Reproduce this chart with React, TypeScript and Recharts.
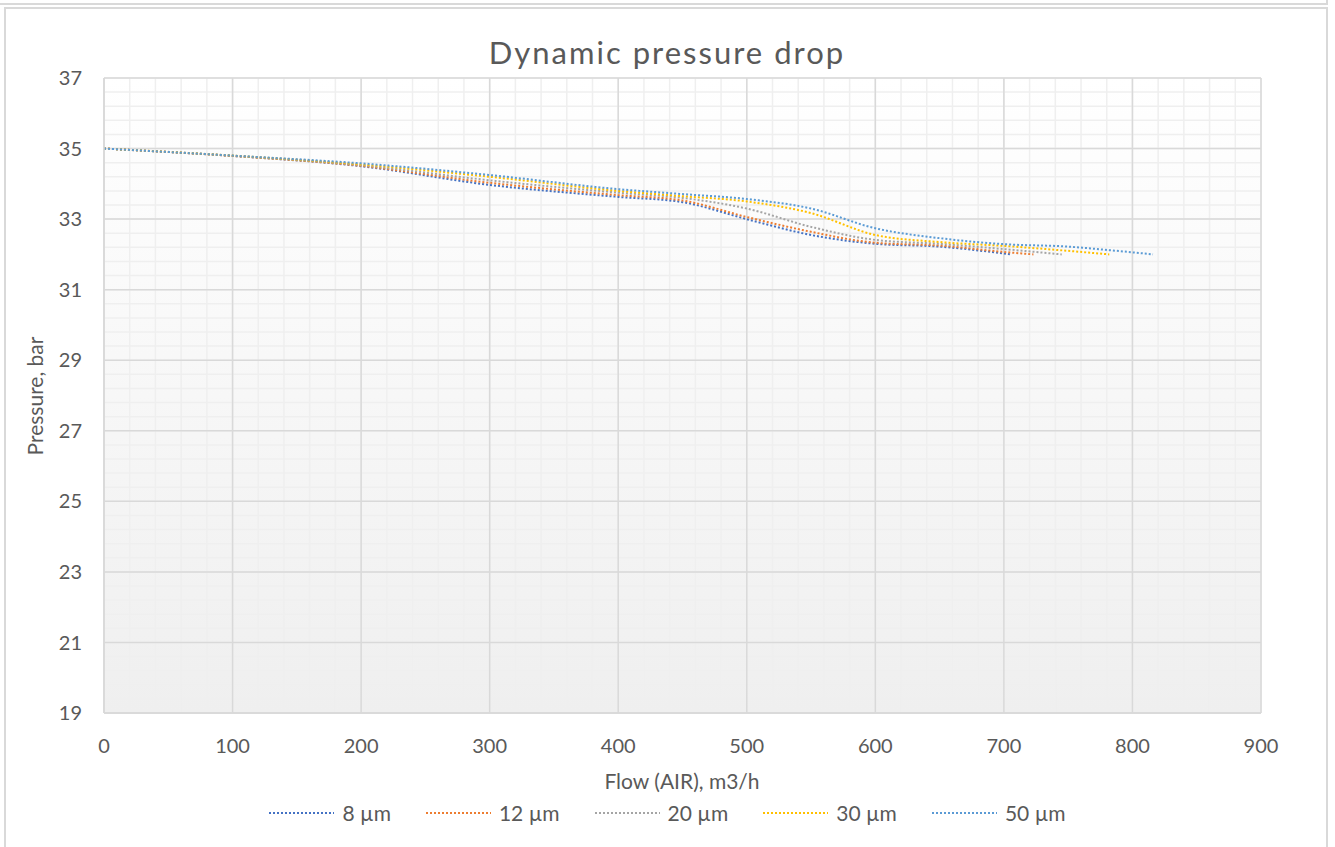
import React from 'react'
import { LineChart, Line, XAxis, YAxis, CartesianGrid } from 'recharts'

const FONT = 'Lato, "Open Sans", sans-serif'
const TEXT = '#595959'

// axis ticks
const xTicks = [0, 100, 200, 300, 400, 500, 600, 700, 800, 900]
const yTicks = [19, 21, 23, 25, 27, 29, 31, 33, 35, 37]
// minor gridlines: every 20 m3/h and every 0.4 bar
const xMinor = Array.from({ length: 46 }, (_, i) => i * 20)
const yMinor = Array.from({ length: 46 }, (_, i) => Math.round((19 + i * 0.4) * 10) / 10)

// series: flow (m3/h) and pressure (bar)
const flow8 = [0, 100, 200, 300, 400, 450, 500, 550, 600, 650, 705]
const pressure8 = [35.0, 34.79, 34.5, 33.97, 33.63, 33.48, 33.0, 32.55, 32.3, 32.22, 32.0]

const flow12 = [0, 100, 200, 300, 400, 450, 500, 550, 600, 650, 700, 723]
const pressure12 = [35.0, 34.79, 34.51, 34.03, 33.68, 33.53, 33.06, 32.64, 32.33, 32.25, 32.07, 32.0]

const flow20 = [0, 100, 200, 300, 400, 450, 500, 550, 600, 650, 700, 745]
const pressure20 = [35.0, 34.8, 34.53, 34.1, 33.75, 33.6, 33.3, 32.78, 32.41, 32.3, 32.15, 32.0]

const flow30 = [0, 100, 200, 300, 400, 450, 500, 550, 600, 650, 700, 750, 782]
const pressure30 = [35.0, 34.8, 34.55, 34.2, 33.8, 33.65, 33.5, 33.17, 32.55, 32.35, 32.24, 32.1, 32.0]

const flow50 = [0, 100, 200, 300, 400, 450, 500, 550, 600, 650, 700, 750, 782, 816]
const pressure50 = [35.0, 34.8, 34.58, 34.25, 33.85, 33.71, 33.57, 33.3, 32.74, 32.46, 32.29, 32.22, 32.12, 32.0]

const toPoints = (flow: number[], pressure: number[]) =>
  flow.map((x, i) => ({ x, y: pressure[i] }))

const series = [
  { name: '8 µm', color: '#4472C4', data: toPoints(flow8, pressure8) },
  { name: '12 µm', color: '#ED7D31', data: toPoints(flow12, pressure12) },
  { name: '20 µm', color: '#A5A5A5', data: toPoints(flow20, pressure20) },
  { name: '30 µm', color: '#FFC000', data: toPoints(flow30, pressure30) },
  { name: '50 µm', color: '#5B9BD5', data: toPoints(flow50, pressure50) },
]

const tickStyle = { fill: TEXT, fontSize: 20, fontFamily: FONT }

export default function App() {
  return (
    <div
      style={{
        position: 'absolute',
        left: 0,
        top: 0,
        width: 1335,
        height: 847,
        overflow: 'hidden',
        background: '#fff',
        fontFamily: FONT,
      }}
    >
      {/* frame of the chart above and this chart */}
      <div style={{ position: 'absolute', left: 0, top: 3, width: 1328, height: 2, background: '#d9d9d9' }} />
      <div style={{ position: 'absolute', left: 1326, top: 0, width: 2, height: 5, background: '#d9d9d9' }} />
      <div
        style={{
          position: 'absolute',
          left: 4,
          top: 7,
          width: 1324,
          height: 860,
          boxSizing: 'border-box',
          border: '2px solid #d9d9d9',
        }}
      />

      <div style={{ position: 'absolute', left: 0, top: 0 }}>
        <LineChart width={1335} height={847} margin={{ top: 78, right: 74, bottom: 104, left: 44 }}>
          <defs>
            <linearGradient id="plotBg" x1="0" y1="0" x2="0" y2="1">
              <stop offset="0%" stopColor="#ffffff" />
              <stop offset="100%" stopColor="#efefef" />
            </linearGradient>
          </defs>
          <CartesianGrid
            stroke="#efefef"
            strokeWidth={1.5}
            fill="url(#plotBg)"
            fillOpacity={1}
            horizontalValues={yMinor}
            verticalValues={xMinor}
          />
          <CartesianGrid
            stroke="#d9d9d9"
            strokeWidth={1.5}
            horizontalValues={yTicks}
            verticalValues={xTicks}
          />
          <XAxis
            dataKey="x"
            type="number"
            domain={[0, 900]}
            ticks={xTicks}
            interval={0}
            tickLine={false}
            axisLine={{ stroke: '#d9d9d9', strokeWidth: 1.5 }}
            tick={tickStyle}
            tickMargin={20}
            height={30}
            allowDataOverflow
          />
          <YAxis
            type="number"
            domain={[19, 37]}
            ticks={yTicks}
            interval={0}
            tickLine={false}
            axisLine={{ stroke: '#d9d9d9', strokeWidth: 1.5 }}
            tick={tickStyle}
            tickMargin={16}
            width={60}
            allowDataOverflow
          />
          {series.map((s) => (
            <Line
              key={s.name}
              name={s.name}
              data={s.data}
              dataKey="y"
              type="monotone"
              stroke={s.color}
              strokeWidth={2}
              strokeDasharray="2 2"
              dot={false}
              activeDot={false}
              isAnimationActive={false}
            />
          ))}
        </LineChart>
      </div>

      <svg
        width={1335}
        height={847}
        style={{ position: 'absolute', left: 0, top: 0, pointerEvents: 'none' }}
        fontFamily={FONT}
      >
        <text x={667} y={64} textAnchor="middle" fontSize={31} letterSpacing={2} fill={TEXT}>
          Dynamic pressure drop
        </text>
        <text x={682} y={789} textAnchor="middle" fontSize={21} fill={TEXT}>
          Flow (AIR), m3/h
        </text>
        <text transform="translate(43,396) rotate(-90)" textAnchor="middle" fontSize={21} fill={TEXT}>
          Pressure, bar
        </text>
      </svg>

      <div
        style={{
          position: 'absolute',
          left: 0,
          top: 800,
          width: 1335,
          height: 26,
          display: 'flex',
          justifyContent: 'center',
          alignItems: 'center',
        }}
      >
        {series.map((s, i) => (
          <div key={s.name} style={{ display: 'flex', alignItems: 'center', marginRight: i < series.length - 1 ? 35 : 0 }}>
            <svg width={65} height={4}>
              <line x1={0} y1={2} x2={65} y2={2} stroke={s.color} strokeWidth={2} strokeDasharray="2 2" />
            </svg>
            <span style={{ marginLeft: 8, fontSize: 21, color: TEXT, lineHeight: '26px' }}>{s.name}</span>
          </div>
        ))}
      </div>
    </div>
  )
}
